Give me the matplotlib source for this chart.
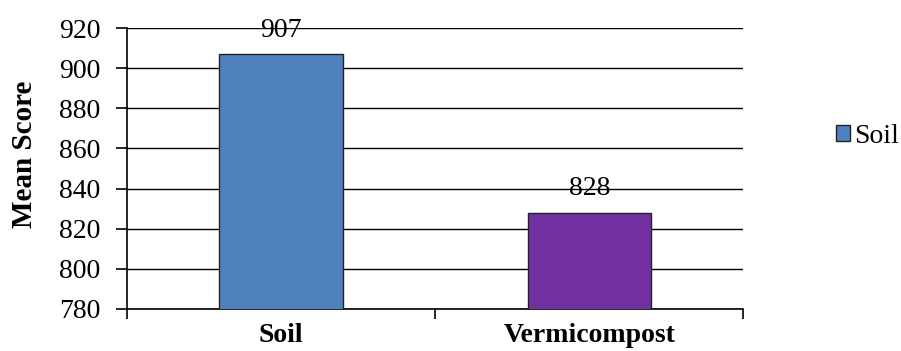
import matplotlib.pyplot as plt
from matplotlib.patches import Patch
import numpy as np

categories = ['Soil', 'Vermicompost']
scores = [907, 828]
bar_colors = ['#4F81BD', '#7030A0']
y_ticks = [780, 800, 820, 840, 860, 880, 900, 920]

plt.rcParams['font.family'] = ['Liberation Serif', 'DejaVu Serif']

fig = plt.figure(figsize=(9.01, 3.51), dpi=100)
ax = fig.add_axes([0.141, 0.12, 0.684, 0.80])

x = np.arange(len(categories))
bars = ax.bar(x, scores, width=0.4, color=bar_colors, edgecolor='#222222',
              linewidth=1.0, zorder=3)

# value labels above each bar
for xi, v in zip(x, scores):
    ax.annotate(f"{v}", (xi, v), xytext=(0, 8), textcoords='offset points',
                ha='center', va='bottom', fontsize=20, zorder=4)

ax.set_xlim(-0.5, 1.5)
ax.set_ylim(780, 920)
ax.set_yticks(y_ticks)
ax.set_yticklabels([str(t) for t in y_ticks], fontsize=20)
ax.set_xticks([-0.5, 0.5, 1.5], minor=False)
ax.set_xticklabels([])
ax.set_xticks(x, minor=True)
ax.set_xticklabels(categories, minor=True, fontsize=20, fontweight='bold')
ax.tick_params(axis='x', which='minor', length=0, pad=10)
ax.tick_params(axis='x', which='major', length=7, width=1.2, direction='out')
ax.tick_params(axis='y', length=8, width=1.2, direction='out', pad=11)

ax.grid(axis='y', color='black', linewidth=1.0, zorder=0)
ax.set_axisbelow(True)
for side in ['top', 'right']:
    ax.spines[side].set_visible(False)
for side in ['left', 'bottom']:
    ax.spines[side].set_linewidth(1.2)

ax.set_ylabel('Mean Score', fontsize=21, fontweight='bold', labelpad=15)
ax.yaxis.label.set_y(0.552)

handle = Patch(facecolor=bar_colors[0], edgecolor='#222222', label='Soil')
fig.legend(handles=[handle], loc='center left', bbox_to_anchor=(0.9126, 0.611),
           frameon=False, fontsize=20, handlelength=0.5, handleheight=0.5,
           handletextpad=0.15, borderpad=0)

fig.savefig('out.png', dpi=100)
